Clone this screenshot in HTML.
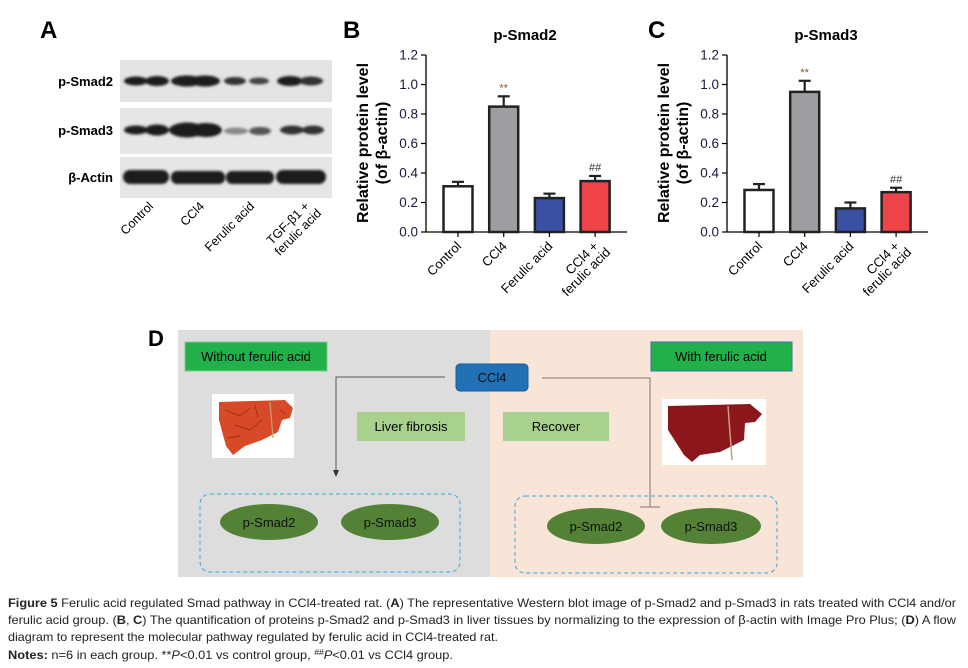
<!DOCTYPE html>
<html><head><meta charset="utf-8"><style>
body{margin:0;background:#fff;width:968px;height:668px;overflow:hidden}
svg{display:block;font-family:"Liberation Sans",sans-serif}
</style></head><body>
<svg id="fig" width="968" height="668" viewBox="0 0 968 668">
<defs><filter id="blur" x="-20%" y="-50%" width="140%" height="200%"><feGaussianBlur stdDeviation="1.2"/></filter></defs>
<!-- Panel A -->
<g>
<text x="40" y="38" font-size="24" font-weight="bold">A</text>
<rect x="120" y="60" width="212" height="42" fill="#e4e4e4"/>
<rect x="120" y="108" width="212" height="46" fill="#e6e6e6"/>
<rect x="120" y="157" width="212" height="41" fill="#e6e6e6"/>
<text x="113" y="86" font-size="13" font-weight="bold" text-anchor="end">p-Smad2</text>
<text x="113" y="135" font-size="13" font-weight="bold" text-anchor="end">p-Smad3</text>
<text x="113" y="182" font-size="13" font-weight="bold" text-anchor="end">β-Actin</text>
<g fill="#1a1a1a" filter="url(#blur)">
<ellipse cx="136" cy="81" rx="12" ry="4.5"/><ellipse cx="157" cy="81" rx="12" ry="5"/>
<ellipse cx="187" cy="81" rx="16" ry="5.5"/><ellipse cx="205" cy="81" rx="15" ry="5.5"/>
<ellipse cx="235" cy="81" rx="11" ry="4" fill="#333"/><ellipse cx="259" cy="81" rx="10" ry="3.5" fill="#444"/>
<ellipse cx="290" cy="81" rx="13" ry="5"/><ellipse cx="311" cy="81" rx="12" ry="4.5" fill="#333"/>
<ellipse cx="136" cy="130" rx="12" ry="4.5"/><ellipse cx="157" cy="130" rx="12" ry="5.5"/>
<ellipse cx="187" cy="130" rx="18" ry="7.5"/><ellipse cx="206" cy="130" rx="16" ry="7"/>
<ellipse cx="236" cy="131" rx="12" ry="3.5" fill="#888"/><ellipse cx="260" cy="131" rx="11" ry="4" fill="#555"/>
<ellipse cx="292" cy="130" rx="12" ry="4.5" fill="#333"/><ellipse cx="313" cy="130" rx="11" ry="4.5" fill="#333"/>
<rect x="123" y="170" width="46" height="14" rx="7"/><rect x="171" y="171" width="54" height="13" rx="6"/>
<rect x="226" y="171" width="48" height="13" rx="6"/><rect x="276" y="170" width="50" height="14" rx="7"/>
</g>
<g font-size="12.5" fill="#000">
<text transform="translate(154,207) rotate(-45)" text-anchor="end">Control</text>
<text transform="translate(205,207) rotate(-45)" text-anchor="end">CCl4</text>
<text transform="translate(255,207) rotate(-45)" text-anchor="end">Ferulic acid</text>
<text transform="translate(310,207) rotate(-45)" text-anchor="end">TGF-β1 +</text>
<text transform="translate(322,214) rotate(-45)" text-anchor="end">ferulic acid</text>
</g>
</g>
<g id="chartB"></g>
<g id="chartC"></g>
<!-- Panel D -->
<g>
<text x="148" y="346" font-size="22" font-weight="bold">D</text>
<rect x="178" y="330" width="312" height="247" fill="#dcdddc"/>
<rect x="490" y="330" width="313" height="247" fill="#f8e5d7"/>
<rect x="185" y="342" width="142" height="29" fill="#22b04b" stroke="#7fcf8f"/>
<text x="256" y="361" font-size="13" text-anchor="middle">Without ferulic acid</text>
<rect x="651" y="342" width="141" height="29" fill="#22b04b" stroke="#3a6fb0"/>
<text x="721" y="361" font-size="13" text-anchor="middle">With ferulic acid</text>
<rect x="456" y="364" width="72" height="27" rx="4" fill="#2270b6" stroke="#1a5a96"/>
<text x="492" y="382" font-size="13" text-anchor="middle" fill="#111">CCl4</text>
<polyline points="445,377 336,377 336,472" fill="none" stroke="#555"/>
<path d="M333,470 L339,470 L336,477 Z" fill="#333"/>
<polyline points="542,378 650,378 650,507" fill="none" stroke="#8a6f66"/>
<line x1="640" y1="507" x2="660" y2="507" stroke="#8a6f66"/>
<rect x="357" y="412" width="108" height="29" fill="#a8d18d"/>
<text x="411" y="431" font-size="13" text-anchor="middle">Liver fibrosis</text>
<rect x="503" y="412" width="106" height="29" fill="#a8d18d"/>
<text x="556" y="431" font-size="13" text-anchor="middle">Recover</text>
<rect x="212" y="394" width="82" height="64" fill="#fff"/>
<path d="M219,402 L285,400 L293,408 L290,418 L282,420 L278,432 L262,440 L245,446 L233,455 L226,446 L219,420 Z" fill="#d84a27"/>
<path d="M225,410 L240,416 L250,408 M235,425 L250,430 L262,420 M228,438 L240,436 M255,405 L258,418 M280,410 L286,414" stroke="#8b2a10" stroke-width="0.7" fill="none"/>
<line x1="270" y1="402" x2="273" y2="438" stroke="#c9a07a" stroke-width="1.2"/>
<rect x="662" y="399" width="104" height="66" fill="#fff"/>
<path d="M668,406 L750,404 L762,414 L755,422 L745,423 L744,440 L720,452 L700,455 L692,462 L684,455 L668,430 Z" fill="#8b161b"/>
<line x1="728" y1="406" x2="732" y2="460" stroke="#c9a07a" stroke-width="1.5"/>
<rect x="200" y="494" width="260" height="78" rx="10" fill="none" stroke="#3aa7e0" stroke-dasharray="4,3"/>
<rect x="515" y="496" width="262" height="77" rx="10" fill="none" stroke="#3aa7e0" stroke-dasharray="4,3"/>
<g font-size="13" text-anchor="middle" fill="#111">
<ellipse cx="269" cy="522" rx="49" ry="18" fill="#538135"/><text x="269" y="527">p-Smad2</text>
<ellipse cx="390" cy="522" rx="49" ry="18" fill="#538135"/><text x="390" y="527">p-Smad3</text>
<ellipse cx="596" cy="526" rx="49" ry="18" fill="#538135"/><text x="596" y="531">p-Smad2</text>
<ellipse cx="711" cy="526" rx="50" ry="18" fill="#538135"/><text x="711" y="531">p-Smad3</text>
</g>
</g>
<!-- Caption -->
<g font-size="12" fill="#222">
<text x="8" y="607" textLength="948" lengthAdjust="spacingAndGlyphs"><tspan font-weight="bold">Figure 5</tspan> Ferulic acid regulated Smad pathway in CCl4-treated rat. (<tspan font-weight="bold">A</tspan>) The representative Western blot image of p-Smad2 and p-Smad3 in rats treated with CCl4 and/or</text>
<text x="8" y="624" textLength="948" lengthAdjust="spacingAndGlyphs">ferulic acid group. (<tspan font-weight="bold">B</tspan>, <tspan font-weight="bold">C</tspan>) The quantification of proteins p-Smad2 and p-Smad3 in liver tissues by normalizing to the expression of β-actin with Image Pro Plus; (<tspan font-weight="bold">D</tspan>) A flow</text>
<text x="8" y="641" textLength="490" lengthAdjust="spacingAndGlyphs">diagram to represent the molecular pathway regulated by ferulic acid in CCl4-treated rat.</text>
<text x="8" y="659" textLength="445" lengthAdjust="spacingAndGlyphs"><tspan font-weight="bold">Notes:</tspan> n=6 in each group. **<tspan font-style="italic">P</tspan>&lt;0.01 vs control group, <tspan font-size="8" dy="-4">##</tspan><tspan dy="4" font-style="italic">P</tspan>&lt;0.01 vs CCl4 group.</text>
</g>
</svg>
<script>
const categories = ["Control", "CCl4", "Ferulic acid", "CCl4 +|ferulic acid"];
const smad2Values = [0.31, 0.85, 0.23, 0.345];
const smad2Errors = [0.03, 0.07, 0.03, 0.035];
const smad3Values = [0.285, 0.95, 0.16, 0.27];
const smad3Errors = [0.04, 0.075, 0.04, 0.03];
const yTicks = [0, 0.2, 0.4, 0.6, 0.8, 1.0, 1.2];
const sigMarks = ["", "**", "", "##"];
const barFills = ["#ffffff", "#9d9ea2", "#3a51a3", "#ee4449"];

const NS = "http://www.w3.org/2000/svg";
function mk(parent, tag, attrs, txt) {
  const e = document.createElementNS(NS, tag);
  for (const k in attrs) e.setAttribute(k, attrs[k]);
  if (txt !== undefined) e.textContent = txt;
  parent.appendChild(e);
  return e;
}
function drawChart(gid, letter, title, vals, errs, x0, letterX) {
  const g = document.getElementById(gid);
  const yTop = 55, yBot = 232, yMax = 1.2, xEnd = x0 + 201;
  const y = v => yBot - v / yMax * (yBot - yTop);
  const xc = i => x0 + 32 + i * 45.7;
  const L = mk(g, "text", {x: letterX, y: 38, "font-size": 24, "font-weight": "bold"}, letter);
  
  
  const T = mk(g, "text", {x: x0 + 99, y: 40, "font-size": 15, "font-weight": "bold", "text-anchor": "middle"}, title);
  
  
  const yt = mk(g, "text", {transform: `translate(${x0 - 58},143) rotate(-90)`, "font-size": 16, "font-weight": "bold", "text-anchor": "middle"}, "Relative protein level");
  
  
  const yt2 = mk(g, "text", {transform: `translate(${x0 - 39},143) rotate(-90)`, "font-size": 16, "font-weight": "bold", "text-anchor": "middle"}, "(of β-actin)");
  
  
  const ax = mk(g, "line", {x1: x0, y1: yTop, x2: x0, y2: yBot, stroke: "#000", "stroke-width": 1.3});
  
  
  const xa = mk(g, "line", {x1: x0, y1: yBot, x2: xEnd, y2: yBot, stroke: "#000", "stroke-width": 1.3});
  
  
  yTicks.forEach(t => {
    mk(g, "line", {x1: x0 - 5, y1: y(t), x2: x0, y2: y(t), stroke: "#000", "stroke-width": 1.2});
    const tl = mk(g, "text", {x: x0 - 8, y: y(t) + 4.5, "font-size": 13.5, "text-anchor": "end", fill: "#1a1a40"}, t.toFixed(1));
    
    
  });
  vals.forEach((v, i) => {
    const cx = xc(i), w = 29;
    mk(g, "line", {x1: cx, y1: y(v), x2: cx, y2: y(v + errs[i]), stroke: "#222", "stroke-width": 2.2});
    mk(g, "line", {x1: cx - 6, y1: y(v + errs[i]), x2: cx + 6, y2: y(v + errs[i]), stroke: "#222", "stroke-width": 2.2});
    const b = mk(g, "rect", {x: cx - w / 2, y: y(v), width: w, height: yBot - y(v), fill: barFills[i], stroke: "#222", "stroke-width": 2.5});
    
    
    mk(g, "line", {x1: cx, y1: yBot, x2: cx, y2: yBot + 5, stroke: "#000", "stroke-width": 1.2});
    if (sigMarks[i]) {
      const s = mk(g, "text", {x: cx, y: y(v + errs[i]) - 5, "font-size": 11, "text-anchor": "middle", fill: i === 1 ? "#7a5a20" : "#333"}, sigMarks[i]);
      
      
    }
    const parts = categories[i].split("|");
    parts.forEach((p, j) => {
      const lt = mk(g, "text", {transform: `translate(${cx + 4 + j * 12},${247 + j * 6}) rotate(-45)`, "font-size": 13, "text-anchor": "end"}, p);
      
      
    });
  });
}
drawChart("chartB", "B", "p-Smad2", smad2Values, smad2Errors, 426, 343);
drawChart("chartC", "C", "p-Smad3", smad3Values, smad3Errors, 727, 648);
</script>
</body></html>
